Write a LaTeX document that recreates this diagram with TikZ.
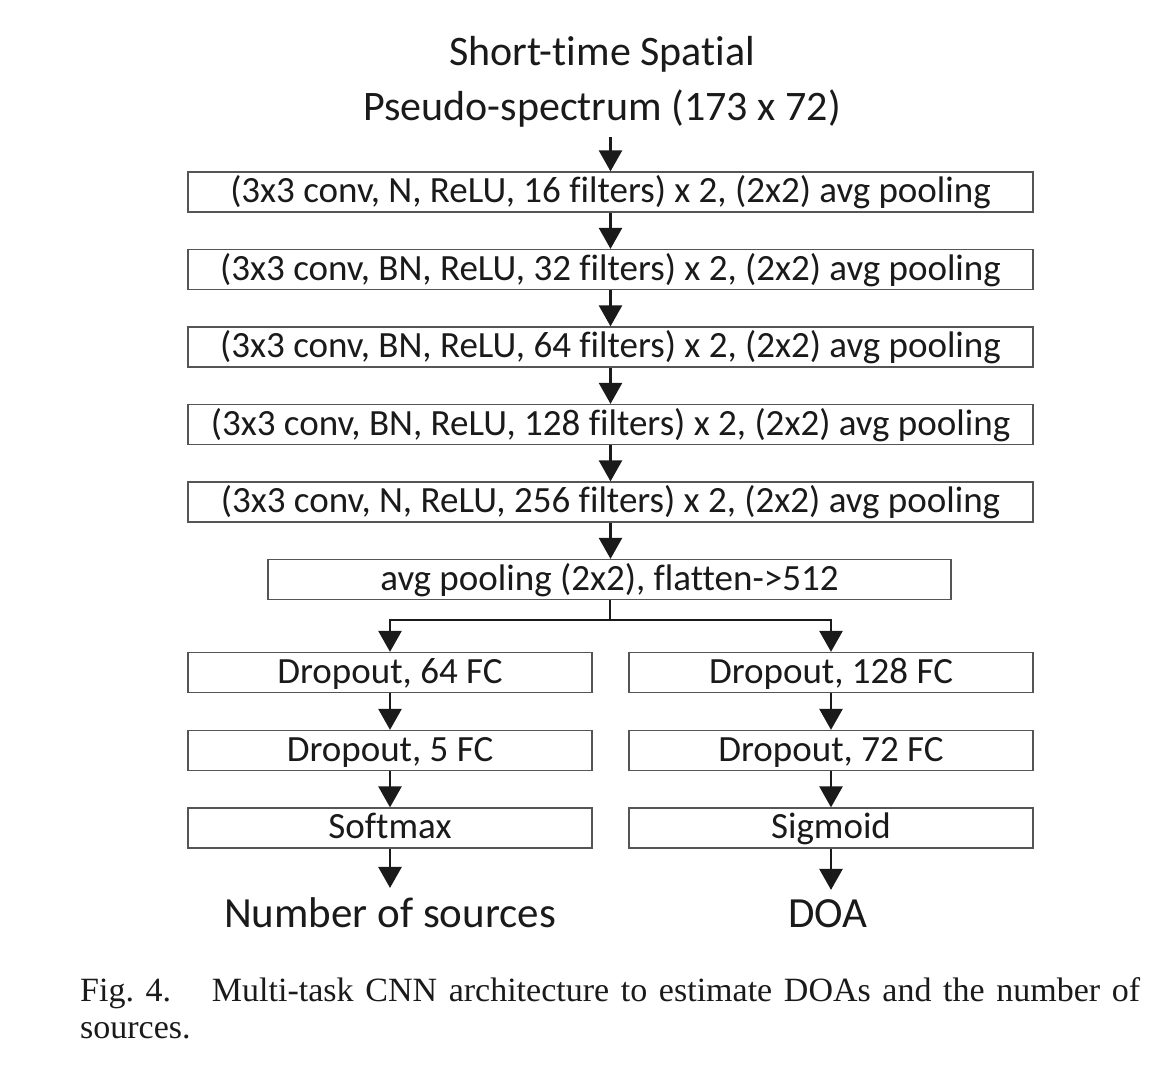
\documentclass[tikz,border=0pt]{standalone}
\usepackage{fontspec}
\setmainfont{Carlito}[Ligatures=CommonOff]
\newfontfamily\capfont{Liberation Serif}
\usetikzlibrary{arrows.meta}
\definecolor{boxline}{HTML}{555555}
\definecolor{ink}{HTML}{1A1A1A}
\begin{document}
\begin{tikzpicture}[x=1pt,y=-1pt,
  layer/.style={draw=boxline,line width=1.3pt,minimum height=40pt,inner sep=0pt,text height=26pt,text depth=5pt,font=\fontsize{37}{42}\selectfont,text=ink},
  wide/.style={layer,minimum width=845pt},
  half/.style={layer,minimum width=404pt},
  flow/.style={draw=ink,line width=2.6pt,-{Triangle[length=21pt,width=23pt]}},
  big/.style={inner sep=0pt,font=\fontsize{43}{55}\selectfont,text=ink}]
\useasboundingbox (0,0) rectangle (1162,1080);
\fill[white] (0,0) rectangle (1162,1080);
\node[big,align=center,anchor=south,font=\fontsize{42}{55}\selectfont] (title) at (602,127) {Short-time Spatial\\Pseudo-spectrum (173 x 72)};
\node[wide] (b1) at (610.5,192) {(3x3 conv, N, ReLU, 16 filters) x 2, (2x2) avg pooling};
\node[wide] (b2) at (610.5,269.5) {(3x3 conv, BN, ReLU, 32 filters) x 2, (2x2) avg pooling};
\node[wide] (b3) at (610.5,347) {(3x3 conv, BN, ReLU, 64 filters) x 2, (2x2) avg pooling};
\node[wide] (b4) at (610.5,424.5) {(3x3 conv, BN, ReLU, 128 filters) x 2, (2x2) avg pooling};
\node[wide] (b5) at (610.5,502) {(3x3 conv, N, ReLU, 256 filters) x 2, (2x2) avg pooling};
\node[layer,minimum width=683pt] (b6) at (609.5,579.5) {avg pooling (2x2), flatten->512};
\node[half] (l1) at (390,672.5) {Dropout, 64 FC};
\node[half] (l2) at (390,750.5) {Dropout, 5 FC};
\node[half] (l3) at (390,828) {Softmax};
\node[half] (r1) at (831,672.5) {Dropout, 128 FC};
\node[half] (r2) at (831,750.5) {Dropout, 72 FC};
\node[half] (r3) at (831,828) {Sigmoid};
\node[big,anchor=base] (nsrc) at (390,927) {Number of sources};
\node[big,anchor=base] (doa) at (828,927) {DOA};
\coordinate (split) at (610,620);
\coordinate (sl) at (390,620);
\coordinate (sr) at (831,620);
\draw[flow,shorten <=10pt] (title.south -| b1.north) -- (b1.north);
\draw[flow] (b1) -- (b2);
\draw[flow] (b2) -- (b3);
\draw[flow] (b3) -- (b4);
\draw[flow] (b4) -- (b5);
\draw[flow] (b5.south) -- (b5.south |- b6.north);
\draw[draw=ink,line width=2.6pt] (b6.south -| split) -- (split);
\draw[draw=ink,line width=2.6pt,line cap=rect] (sl) -- (sr);
\draw[flow] (sl) -- (l1.north);
\draw[flow] (sr) -- (r1.north);
\draw[flow] (l1) -- (l2);
\draw[flow] (l2) -- (l3);
\draw[flow] (r1) -- (r2);
\draw[flow] (r2) -- (r3);
\draw[flow,shorten >=9pt] (l3.south) -- (l3.south |- nsrc.north);
\draw[flow,shorten >=9pt] (r3.south) -- (r3.south |- doa.north);
\node[anchor=base west,inner sep=0pt,text width=1060pt,align=justify,font=\capfont\fontsize{34}{37}\selectfont,text=ink] (cap) at (80,1001)
 {Fig.~4.\hspace{1.2em}Multi-task CNN architecture to estimate DOAs and the number of\linebreak sources.};
\end{tikzpicture}
\end{document}
